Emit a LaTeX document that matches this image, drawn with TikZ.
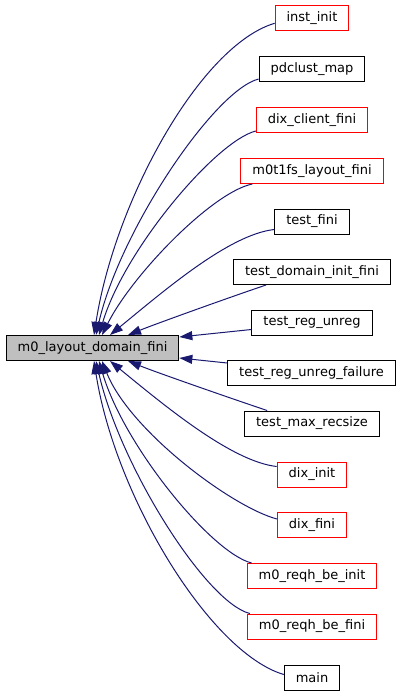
\documentclass[tikz,border=0pt]{standalone}
\usepackage{fontspec}
\setmainfont{DejaVu Sans}
\usepackage{tikz}
\usetikzlibrary{arrows.meta,calc}

\definecolor{edgeblue}{HTML}{191970}
\definecolor{curgray}{HTML}{BFBFBF}

\begin{document}
\begin{tikzpicture}[x=1pt, y=-1pt,
    fn/.style={draw=black, fill=white, line width=1pt, minimum height=25pt, inner xsep=11.5pt, inner ysep=0pt, font=\fontsize{13}{15}\selectfont},
    ext/.style={fn, draw=red},
    cur/.style={fn, fill=curgray},
    call/.style={draw=edgeblue, line width=1pt, -{Triangle[length=13pt, width=9pt]}},
]
\useasboundingbox (0,0) rectangle (401,696);

% function of this graph
\node[cur] (lfini) at (92.5, 348) {m0\_layout\_domain\_fini};

% callers
\node[ext] (inst) at (312, 18.3) {inst\_init};
\node[fn] (pdmap) at (312, 69) {pdclust\_map};
\node[ext] (dixcf) at (312, 120) {dix\_client\_fini};
\node[ext] (fsfini) at (312, 171) {m0t1fs\_layout\_fini};
\node[fn] (tfini) at (312, 221.5) {test\_fini};
\node[fn] (tdom) at (312, 272) {test\_domain\_init\_fini};
\node[fn] (treg) at (312, 322.5) {test\_reg\_unreg};
\node[fn] (tregf) at (311.5, 373) {test\_reg\_unreg\_failure};
\node[fn] (tmax) at (312, 423.5) {test\_max\_recsize};
\node[ext] (dinit) at (312, 474.5) {dix\_init};
\node[ext] (dfini) at (312, 525) {dix\_fini};
\node[ext] (rinit) at (312, 576) {m0\_reqh\_be\_init};
\node[ext] (rfini) at (312, 626.5) {m0\_reqh\_be\_fini};
\node[fn] (mainfn) at (312, 677.5) {main};

% upper calls
\draw[call] ($(inst.west)+(0,5)$) .. controls +(-74,22) and +(21,-135) .. ([xshift=1.5pt]lfini.north);
\draw[call] ($(pdmap.west)+(0,10)$) .. controls +(-44,11) and +(24,-105) .. ([xshift=3.5pt]lfini.north);
\draw[call] ($(dixcf.west)+(0,11)$) .. controls +(-40,10) and +(25,-85) .. ([xshift=6.5pt]lfini.north);
\draw[call] ($(fsfini.south west)+(12,0)$) .. controls +(-40,8) and +(30,-60) .. ([xshift=9.5pt]lfini.north);
\draw[call] ($(tfini.west)+(0,8)$) .. controls +(-45,5) and +(55,-45) .. ([xshift=17.5pt]lfini.north);
\draw[call] ($(tdom.south west)+(33,0)$) .. controls +(-30,10) and +(30,-12) .. ([xshift=35.5pt]lfini.north);

% side calls
\draw[call] ($(treg.west)+(0,7)$) -- ($(lfini.east)+(0,-11)$);
\draw[call] ($(tregf.west)+(0,-10)$) -- ($(lfini.east)+(0,10)$);

% lower calls
\draw[call] ($(tmax.north west)+(23,0)$) .. controls +(-30,-10) and +(30,12) .. ([xshift=35.5pt]lfini.south);
\draw[call] ($(dinit.west)+(0,-8)$) .. controls +(-45,-5) and +(55,45) .. ([xshift=17.5pt]lfini.south);
\draw[call] ($(dfini.west)+(0,-6)$) .. controls +(-45,-12) and +(28,70) .. ([xshift=9.5pt]lfini.south);
\draw[call] ($(rinit.north west)+(5,0)$) .. controls +(-40,-10) and +(25,85) .. ([xshift=6.5pt]lfini.south);
\draw[call] ($(rfini.north west)+(3,0)$) .. controls +(-44,-11) and +(24,105) .. ([xshift=3.5pt]lfini.south);
\draw[call] ($(mainfn.west)+(0,-3)$) .. controls +(-74,-22) and +(21,135) .. ([xshift=1.5pt]lfini.south);

\end{tikzpicture}
\end{document}
